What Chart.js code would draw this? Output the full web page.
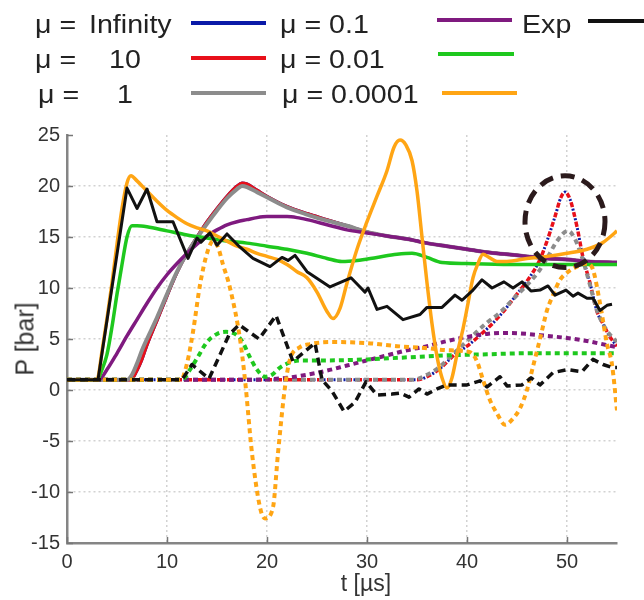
<!DOCTYPE html>
<html>
<head>
<meta charset="utf-8">
<script src="https://cdn.jsdelivr.net/npm/chart.js@4.4.1/dist/chart.umd.min.js"></script>
<style>
  html, body { margin: 0; padding: 0; background: #fff; }
  #wrap { position: relative; width: 644px; height: 600px; overflow: hidden; background: #fff; font-family: "Liberation Sans", Arial, sans-serif; color: #222; }
  #c { position: absolute; left: 0; top: 0; }
  .lt { position: absolute; font-size: 26px; line-height: 26px; white-space: pre; transform: scaleX(1.1); transform-origin: left center; color: #222; }
  .ls { position: absolute; height: 3.5px; }
  .ttl { position: absolute; white-space: nowrap; color: #333; }
</style>
</head>
<body>
<div id="wrap">
  <canvas id="c" width="644" height="600"></canvas>

  <div class="lt" style="left:35px;top:11px">μ =</div><div class="lt" style="left:89px;top:11px">Infinity</div>
  <div class="lt" style="left:35px;top:46px">μ =</div><div class="lt" style="left:109px;top:46px">10</div>
  <div class="lt" style="left:38px;top:81px">μ =</div><div class="lt" style="left:117px;top:81px">1</div>
  <div class="ls" style="left:191px;top:21px;width:75px;background:#0a1aa8"></div>
  <div class="ls" style="left:191px;top:56px;width:75px;background:#e8101a"></div>
  <div class="ls" style="left:191px;top:91px;width:75px;height:4px;background:#8c8c8c"></div>

  <div class="lt" style="left:280px;top:11px">μ = 0.1</div>
  <div class="lt" style="left:280px;top:46px">μ = 0.01</div>
  <div class="lt" style="left:282px;top:81px">μ = 0.0001</div>
  <div class="ls" style="left:437px;top:18px;width:75px;background:#7f1a7f"></div>
  <div class="ls" style="left:438px;top:52px;width:76px;background:#1ec81e"></div>
  <div class="ls" style="left:442px;top:91px;width:75px;background:#ffa514"></div>

  <div class="lt" style="left:522px;top:11px">Exp</div>
  <div class="ls" style="left:588px;top:19px;width:56px;background:#111"></div>

  <div class="ttl" style="left:25px;top:339px;font-size:25px;transform:translate(-50%,-50%) rotate(-90deg)">P [bar]</div>
  <div class="ttl" style="left:366px;top:583px;font-size:23px;transform:translate(-50%,-50%)">t [µs]</div>
</div>
<script>
// ---------- data ----------
// solid lines
const tInf = [0, 6.4, 7, 7.5, 8, 9, 10, 11, 12, 13, 14, 15, 16, 17, 17.5, 18, 19, 20, 22, 24, 26, 28, 30, 32, 34, 36, 38, 40, 42, 44, 46, 48, 50, 52, 55];
const pInf = [1, 1, 1.9, 3.0, 4.4, 6.8, 9.2, 11.5, 13.4, 15.0, 16.5, 17.8, 19.0, 20.0, 20.3, 20.2, 19.6, 19.0, 18.0, 17.3, 16.7, 16.1, 15.5, 15.1, 14.8, 14.4, 14.1, 13.8, 13.5, 13.3, 13.1, 12.9, 12.8, 12.6, 12.5];
const t10 = [0, 6.4, 7, 7.5, 8, 9, 10, 11, 12, 13, 14, 15, 16, 17, 17.5, 18, 19, 20, 22, 24, 26, 28, 30, 32, 34, 36, 38, 40, 42, 44, 46, 48, 50, 52, 55];
const p10 = [1, 1, 1.9, 3.0, 4.4, 6.8, 9.2, 11.5, 13.4, 15.0, 16.5, 17.8, 19.0, 20.0, 20.3, 20.2, 19.6, 19.0, 18.0, 17.3, 16.7, 16.1, 15.5, 15.1, 14.8, 14.4, 14.1, 13.8, 13.5, 13.3, 13.1, 12.9, 12.8, 12.6, 12.5];
const t1 = [0, 6.0, 6.5, 7, 7.5, 8, 9, 10, 11, 12, 13, 14, 15, 16, 17, 17.5, 18, 19, 20, 22, 24, 26, 28, 30, 32, 34, 36, 38, 40, 42, 44, 46, 48, 50, 52, 55];
const p1 = [1, 1, 1.5, 2.6, 3.9, 5.0, 7.1, 9.4, 11.6, 13.4, 14.9, 16.3, 17.6, 18.8, 19.7, 20.0, 19.9, 19.4, 18.9, 17.9, 17.2, 16.6, 16.1, 15.5, 15.1, 14.8, 14.4, 14.1, 13.8, 13.5, 13.3, 13.1, 12.9, 12.8, 12.6, 12.5];
const t01 = [0, 3.2, 4, 5, 6, 7, 8, 9, 10, 11, 12, 13, 14, 15, 16, 17, 18, 19, 20, 21, 22, 23, 24, 26, 28, 30, 32, 34, 36, 38, 40, 42, 44, 46, 48, 50, 52, 55];
const p01 = [1, 1, 2.0, 3.6, 5.3, 6.9, 8.5, 10.0, 11.3, 12.4, 13.4, 14.3, 15.1, 15.7, 16.2, 16.5, 16.7, 16.9, 17.0, 17.0, 17.0, 16.9, 16.7, 16.2, 15.7, 15.4, 15.1, 14.8, 14.4, 14.1, 13.8, 13.5, 13.3, 13.1, 12.9, 12.8, 12.6, 12.5];
const t001 = [0, 3, 3.5, 4, 4.5, 5, 5.5, 6, 6.5, 7, 8, 10, 12, 14, 16, 18, 20, 22, 24, 26, 27.5, 29, 31, 33, 34.5, 36, 37.5, 40, 45, 50, 55];
const p001 = [1, 1, 2.0, 3.5, 6.2, 9.4, 12.3, 15.0, 16.1, 16.1, 16.0, 15.6, 15.2, 14.9, 14.6, 14.4, 14.1, 13.8, 13.4, 12.9, 12.6, 12.7, 13.0, 13.3, 13.4, 13.0, 12.5, 12.4, 12.3, 12.3, 12.3];
const t0001 = [0, 3, 3.5, 4, 4.5, 5, 5.5, 6, 6.4, 7, 8, 9, 10, 11, 12, 13, 14, 15, 16, 17, 18, 19, 20, 21, 22, 23, 24, 25, 26, 26.6, 27.3, 28, 29, 30, 31, 32, 32.7, 33.3, 33.9, 34.5, 35, 35.5, 36, 36.5, 37, 37.5, 38, 38.5, 39, 39.6, 40.1, 40.6, 41.1, 41.6, 42.2, 43, 44, 46, 48, 50, 52, 53.5, 54.3, 55];
const p0001 = [1, 1, 3.8, 7.0, 10.5, 14.3, 17.8, 20.3, 21.0, 20.5, 19.5, 18.5, 17.6, 16.9, 16.3, 15.9, 15.6, 15.1, 14.6, 14.1, 13.8, 13.4, 13.1, 12.8, 12.3, 11.6, 11.0, 9.6, 7.7, 7.0, 8.0, 10.5, 13.8, 16.5, 19.0, 21.5, 23.8, 24.5, 24.0, 22.5, 19.5, 15.0, 10.5, 6.5, 3.3, 1.2, 0.2, 1.2, 3.5, 6.0, 8.5, 11.0, 12.4, 13.3, 13.0, 12.6, 12.6, 12.9, 13.1, 13.4, 13.8, 14.4, 15.0, 15.6];
const tExp = [0, 3.1, 6.0, 7.0, 8.0, 9.0, 10.6, 12.1, 13.0, 13.4, 14.3, 15.0, 16.0, 17.3, 18.6, 20.3, 21.5, 22.1, 22.8, 24.0, 26.3, 28.4, 29.3, 29.8, 30.1, 31.0, 32.0, 33.6, 35.3, 36.0, 37.5, 38.8, 39.5, 40.6, 41.5, 42.5, 43.7, 44.6, 45.5, 46.4, 47.3, 48.1, 48.8, 49.9, 50.6, 51.1, 52.0, 52.6, 53.3, 54.0, 54.5];
const pExp = [1, 1, 19.8, 17.8, 19.7, 16.5, 16.5, 12.9, 14.9, 14.5, 15.4, 14.2, 15.3, 14.0, 12.9, 12.1, 13.0, 12.7, 13.2, 11.6, 10.1, 11.0, 10.1, 9.6, 10.0, 7.9, 8.2, 6.9, 7.4, 8.1, 8.1, 9.3, 8.8, 9.8, 10.8, 10.0, 10.6, 10.0, 10.6, 9.7, 9.8, 10.2, 9.3, 9.8, 9.2, 9.5, 9.0, 9.0, 7.8, 8.3, 8.4];

// dotted lines (second position)
const tInfD = [0, 35.0, 36, 37.3, 38.8, 40, 42, 43.3, 45, 46.3, 47.3, 48, 48.8, 49.4, 49.8, 50.3, 51, 51.6, 52.3, 53, 53.6, 54.3, 55];
const pInfD = [1, 1, 1.3, 2.1, 3.5, 4.3, 6.0, 7.3, 9.4, 11.1, 12.8, 14.6, 17.0, 18.9, 19.4, 18.7, 16.0, 13.0, 10.5, 7.7, 6.5, 5.2, 4.3];
const t10D = [0, 35.0, 36, 37.3, 38.8, 40, 42, 43.3, 45, 46.3, 47.3, 48, 48.8, 49.4, 49.8, 50.3, 51, 51.6, 52.3, 53, 53.6, 54.3, 55];
const p10D = [1, 1, 1.3, 2.1, 3.5, 4.3, 6.0, 7.3, 9.4, 11.1, 12.8, 14.6, 17.0, 18.9, 19.4, 18.7, 16.0, 13.0, 10.5, 7.7, 6.5, 5.2, 4.3];
const t1D = [0, 34.6, 36, 37.3, 38.8, 40, 42, 43.3, 45, 46.3, 47.3, 48, 49, 50.1, 50.8, 51.6, 52.3, 53, 54, 55];
const p1D = [1, 1, 1.5, 2.3, 3.7, 4.8, 6.6, 7.6, 9.3, 10.6, 11.8, 12.9, 14.6, 15.6, 14.8, 12.7, 10.3, 7.8, 5.8, 4.7];
const t01D = [0, 18, 20, 22, 24, 26, 28, 30, 32, 34, 36, 38, 40, 42, 44, 46, 48, 50, 52, 54, 55];
const p01D = [1, 1, 1.05, 1.2, 1.5, 1.9, 2.4, 2.9, 3.4, 3.9, 4.3, 4.8, 5.2, 5.5, 5.6, 5.5, 5.3, 5.1, 4.8, 4.4, 4.2];
const t001D = [0, 11.5, 12.3, 13, 14, 15, 15.9, 16.8, 17.5, 18.3, 19, 19.8, 20.5, 21.3, 22.3, 23.3, 26, 30, 34, 38, 42, 46, 50, 55];
const p001D = [1, 1, 2.0, 3.1, 4.7, 5.5, 5.7, 5.5, 4.8, 3.2, 2.0, 1.3, 1.5, 2.2, 2.7, 2.9, 2.9, 3.0, 3.2, 3.4, 3.5, 3.6, 3.6, 3.6];
const t0001D = [0, 11.4, 12, 12.6, 13.3, 14, 14.6, 15.1, 15.6, 16.3, 17.3, 17.8, 18.5, 19.3, 19.8, 20.6, 21.1, 21.8, 22.3, 23.3, 24.3, 26.5, 30, 33, 36, 38, 40.3, 41, 41.6, 42.3, 43, 43.8, 44.6, 45.3, 46, 46.6, 47.3, 48, 48.6, 49.3, 50, 51, 52, 52.6, 53.3, 54, 54.5, 55];
const p0001D = [1, 1, 2.6, 5.7, 10.3, 13.4, 14.6, 14.0, 12.3, 10.0, 5.0, 1.0, -6.2, -11.5, -12.6, -11.5, -6.2, 0.3, 3.0, 4.2, 4.5, 4.7, 4.6, 4.3, 4.1, 3.9, 3.7, 2.8, 1.0, -1.0, -2.3, -3.4, -2.8, -1.8, 0.0, 2.3, 5.0, 7.8, 9.3, 10.8, 11.5, 12.1, 12.4, 11.8, 8.5, 4.5, 2.5, -2.0];
const tExpD = [0, 11.5, 12.5, 14.2, 16.2, 17.2, 19.2, 20.9, 22.6, 23.8, 24.8, 25.5, 26.5, 27.7, 28.8, 29.9, 31.0, 32.5, 33.3, 34.2, 35.2, 36.0, 37.0, 38.0, 39.0, 40.0, 41.3, 42.0, 43.3, 44.0, 45.5, 46.4, 47.3, 48.6, 50.0, 51.5, 52.6, 53.6, 54.5, 55];
const pExpD = [1, 1, 2.5, 1.1, 5.4, 6.4, 5.0, 7.3, 2.8, 3.8, 4.6, 1.0, -0.1, -2.1, -1.2, 0.8, -0.5, -0.4, -0.3, -0.7, 0.1, -0.4, 0.1, 0.5, 0.5, 0.5, 0.9, 0.3, 1.3, 0.4, 0.5, 1.2, 0.5, 1.7, 2.0, 1.8, 3.0, 2.5, 2.2, 2.2];

// axis ticks and annotation
const xTicks = [0, 10, 20, 30, 40, 50];
const yTicks = [-15, -10, -5, 0, 5, 10, 15, 20, 25];
const circleCenter = [49.8, 16.5];   // (t, P)
const circleRadius = [4.0, 4.5];     // (µs, bar)

// ---------- chart ----------
const pts = (t, p) => t.map((v, i) => ({ x: v, y: p[i] }));
const smooth = { tension: 0.4, cubicInterpolationMode: 'monotone' };

const datasets = [
  { label: 'Exp', data: pts(tExp, pExp), borderColor: '#111', borderWidth: 3, tension: 0 },
  { label: 'Exp (2)', data: pts(tExpD, pExpD), borderColor: '#111', borderWidth: 3.5, borderDash: [8, 5], tension: 0 },
  { label: 'μ = 0.0001', data: pts(t0001, p0001), borderColor: '#ffa514', borderWidth: 3.5, ...smooth },
  { label: 'μ = 0.0001 (2)', data: pts(t0001D, p0001D), borderColor: '#ffa514', borderWidth: 4, borderDash: [5, 4], ...smooth },
  { label: 'μ = 0.01', data: pts(t001, p001), borderColor: '#1ec81e', borderWidth: 3.5, ...smooth },
  { label: 'μ = 0.01 (2)', data: pts(t001D, p001D), borderColor: '#1ec81e', borderWidth: 4, borderDash: [5, 4], ...smooth },
  { label: 'μ = 0.1', data: pts(t01, p01), borderColor: '#7f1a7f', borderWidth: 3.5, ...smooth },
  { label: 'μ = 0.1 (2)', data: pts(t01D, p01D), borderColor: '#7f1a7f', borderWidth: 4, borderDash: [5, 4], ...smooth },
  { label: 'μ = 1', data: pts(t1, p1), borderColor: '#8c8c8c', borderWidth: 4, ...smooth },
  { label: 'μ = 1 (2)', data: pts(t1D, p1D), borderColor: '#8c8c8c', borderWidth: 4, borderDash: [5, 4], ...smooth },
  { label: 'μ = 10', data: pts(t10, p10), borderColor: '#e8101a', borderWidth: 3, ...smooth },
  { label: 'μ = 10 (2)', data: pts(t10D, p10D), borderColor: '#e8101a', borderWidth: 3.5, borderDash: [5, 5], ...smooth },
  { label: 'μ = Infinity', data: pts(tInf, pInf), borderColor: '#0a1aa8', borderWidth: 3, ...smooth },
  { label: 'μ = Infinity (2)', data: pts(tInfD, pInfD), borderColor: '#0a1aa8', borderWidth: 3, borderDash: [2, 8], borderDashOffset: -6.5, ...smooth }
];

const extras = {
  id: 'extras',
  afterDatasetsDraw(chart) {
    const { ctx, scales: { x, y } } = chart;
    const cx = x.getPixelForValue(circleCenter[0]);
    const cy = y.getPixelForValue(circleCenter[1]);
    const rx = x.getPixelForValue(circleCenter[0] + circleRadius[0]) - cx;
    const ry = cy - y.getPixelForValue(circleCenter[1] + circleRadius[1]);
    ctx.save();
    ctx.strokeStyle = '#2b1a1c';
    ctx.lineWidth = 5;
    ctx.setLineDash([14, 8]);
    ctx.beginPath();
    ctx.ellipse(cx, cy, rx, ry, 0, 0, Math.PI * 2);
    ctx.stroke();
    ctx.restore();
  },
  afterDraw(chart) {
    const { ctx, chartArea: a, scales: { x, y } } = chart;
    ctx.save();
    ctx.strokeStyle = '#777';
    ctx.lineWidth = 1.5;
    ctx.setLineDash([]);
    y.ticks.forEach(tk => {
      const py = Math.round(y.getPixelForValue(tk.value)) + 0.5;
      ctx.beginPath(); ctx.moveTo(a.left, py); ctx.lineTo(a.left + 6, py); ctx.stroke();
    });
    x.ticks.forEach(tk => {
      const px = Math.round(x.getPixelForValue(tk.value)) + 0.5;
      ctx.beginPath(); ctx.moveTo(px, a.bottom); ctx.lineTo(px, a.bottom - 6); ctx.stroke();
    });
    ctx.restore();
  }
};

const tickFont = { family: '"Liberation Sans", Arial, sans-serif', size: 20 };
const gridColor = (c) => (c.tick && c.tick.value === 25) ? 'rgba(0,0,0,0)' : '#d2d2d2';

new Chart(document.getElementById('c'), {
  type: 'line',
  data: { datasets },
  options: {
    responsive: false,
    animation: false,
    devicePixelRatio: 1,
    layout: { padding: { top: 135, right: 27, left: 0, bottom: 0 } },
    elements: { point: { radius: 0, hoverRadius: 0 }, line: { borderCapStyle: 'butt', borderJoinStyle: 'round' } },
    plugins: { legend: { display: false }, tooltip: { enabled: false } },
    scales: {
      x: {
        type: 'linear', min: 0, max: 55,
        afterBuildTicks: (s) => { s.ticks = xTicks.map(v => ({ value: v })); },
        afterFit: (s) => { s.height = 57; },
        ticks: { color: '#333', font: tickFont, padding: 7, maxRotation: 0, autoSkip: false },
        grid: { color: gridColor, lineWidth: 1.5, drawTicks: false },
        border: { color: '#858585', width: 2.5, dash: [2, 3] }
      },
      y: {
        type: 'linear', min: -15, max: 25,
        afterBuildTicks: (s) => { s.ticks = yTicks.map(v => ({ value: v })); },
        afterFit: (s) => { s.width = 67; },
        ticks: { color: '#333', font: tickFont, padding: 7, autoSkip: false },
        grid: { color: gridColor, lineWidth: 1.5, drawTicks: false },
        border: { color: '#858585', width: 2.5, dash: [2, 3] }
      }
    }
  },
  plugins: [extras]
});
</script>
</body>
</html>
